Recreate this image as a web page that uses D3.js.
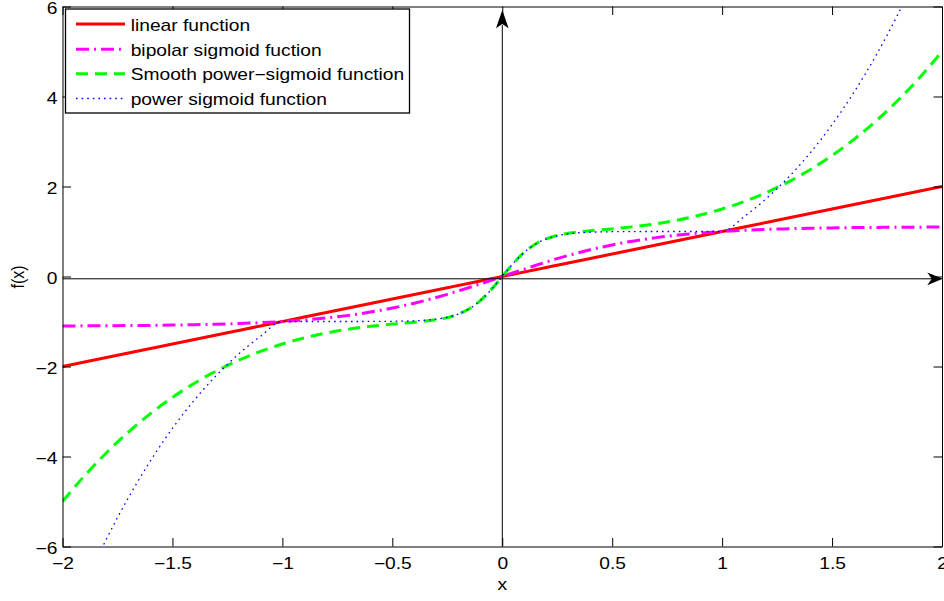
<!DOCTYPE html>
<html>
<head>
<meta charset="utf-8">
<script src="https://cdn.jsdelivr.net/npm/d3@7"></script>
<style>
  html, body { margin: 0; padding: 0; background: #fff; }
  svg { display: block; }
  text { font-family: "Liberation Sans", Arial, Helvetica, sans-serif; font-size: 16px; fill: #000; }
</style>
</head>
<body>
<svg id="chart" width="944" height="601"></svg>
<script>
// Sample points along x
const xValues = [-2, -1.9, -1.8, -1.7, -1.6, -1.5, -1.4, -1.3, -1.2, -1.1, -1, -0.9, -0.8, -0.7, -0.6, -0.5, -0.4, -0.3,
  -0.25, -0.2, -0.15, -0.1, -0.05, 0, 0.05, 0.1, 0.15, 0.2, 0.25,
  0.3, 0.4, 0.5, 0.6, 0.7, 0.8, 0.9, 1, 1.1, 1.2, 1.3, 1.4, 1.5, 1.6, 1.7, 1.8, 1.9, 2];

const linearValues = [-2, -1.9, -1.8, -1.7, -1.6, -1.5, -1.4, -1.3, -1.2, -1.1, -1, -0.9, -0.8, -0.7, -0.6, -0.5, -0.4, -0.3,
  -0.25, -0.2, -0.15, -0.1, -0.05, 0, 0.05, 0.1, 0.15, 0.2, 0.25,
  0.3, 0.4, 0.5, 0.6, 0.7, 0.8, 0.9, 1, 1.1, 1.2, 1.3, 1.4, 1.5, 1.6, 1.7, 1.8, 1.9, 2];

const bipolarValues = [-1.099, -1.097, -1.095, -1.091, -1.087, -1.080, -1.072, -1.061, -1.046, -1.026, -1.0, -0.966, -0.921, -0.864, -0.791, -0.702, -0.593, -0.466,
  -0.396, -0.322, -0.244, -0.164, -0.083, 0, 0.083, 0.164, 0.244, 0.322, 0.396,
  0.466, 0.593, 0.702, 0.791, 0.864, 0.921, 0.966, 1.0, 1.026, 1.046, 1.061, 1.072, 1.080, 1.087, 1.091, 1.095, 1.097, 1.099];

const smoothPowerValues = [-5.0, -4.430, -3.916, -3.457, -3.048, -2.688, -2.372, -2.099, -1.864, -1.666, -1.5, -1.365, -1.256, -1.171, -1.107, -1.058, -1.016, -0.960,
  -0.913, -0.838, -0.718, -0.538, -0.291, 0, 0.291, 0.538, 0.718, 0.838, 0.913,
  0.960, 1.016, 1.058, 1.107, 1.171, 1.256, 1.365, 1.5, 1.666, 1.864, 2.099, 2.372, 2.688, 3.048, 3.457, 3.916, 4.430, 5.0];

const powerValues = [-8.0, -6.859, -5.832, -4.913, -4.096, -3.375, -2.744, -2.197, -1.728, -1.331, -1.0, -1.0, -1.0, -1.0, -0.999, -0.995, -0.984, -0.947,
  -0.905, -0.834, -0.716, -0.537, -0.291, 0, 0.291, 0.537, 0.716, 0.834, 0.905,
  0.947, 0.984, 0.995, 0.999, 1.0, 1.0, 1.0, 1.0, 1.331, 1.728, 2.197, 2.744, 3.375, 4.096, 4.913, 5.832, 6.859, 8.0];

const seriesNames = ["linear function", "bipolar sigmoid fuction", "Smooth power\u2212sigmoid function", "power sigmoid function"];
const xTicks = [-2, -1.5, -1, -0.5, 0, 0.5, 1, 1.5, 2];
const yTicks = [-6, -4, -2, 0, 2, 4, 6];
const xLabel = "x";
const yLabel = "f(x)";

const series = [
  { name: seriesNames[0], values: linearValues,      color: "#ff0000", width: 3,   dash: null },
  { name: seriesNames[1], values: bipolarValues,     color: "#ff00ff", width: 3,   dash: "13,5,2,5" },
  { name: seriesNames[2], values: smoothPowerValues, color: "#00ff00", width: 3,   dash: "12,7" },
  { name: seriesNames[3], values: powerValues,       color: "#0000ff", width: 1.3, dash: "1.6,4" }
];

const SX = 1.2; // horizontal glyph stretch
const fmt = v => String(v).replace("-", "\u2212");

const svg = d3.select("#chart");
const plotLeft = 62.5, plotRight = 942, plotTop = 6.5, plotBottom = 546.5;

const x = d3.scaleLinear().domain([-2, 2]).range([plotLeft, plotRight]);
const y = d3.scaleLinear().domain([-6, 6]).range([plotBottom, plotTop]);

// clip region for the plotted curves
svg.append("defs").append("clipPath").attr("id", "plotClip")
  .append("rect").attr("x", plotLeft).attr("y", plotTop)
  .attr("width", plotRight - plotLeft).attr("height", plotBottom - plotTop);

// curves
const line = d3.line()
  .x((d, i) => x(xValues[i]))
  .y(d => y(d))
  .curve(d3.curveMonotoneX);

const plot = svg.append("g").attr("clip-path", "url(#plotClip)");
series.forEach(s => {
  plot.append("path")
    .attr("d", line(s.values))
    .attr("fill", "none")
    .attr("stroke", s.color)
    .attr("stroke-width", s.width)
    .attr("stroke-dasharray", s.dash)
    .attr("stroke-linejoin", "round");
});

// axes (box with inward ticks on all sides)
const tickLen = 8.5;
const gB = svg.append("g").attr("transform", `translate(0,${plotBottom})`)
  .call(d3.axisBottom(x).tickValues(xTicks).tickFormat(fmt).tickSizeInner(-tickLen).tickSizeOuter(0));
const gT = svg.append("g").attr("transform", `translate(0,${plotTop})`)
  .call(d3.axisTop(x).tickValues(xTicks).tickFormat("").tickSizeInner(-tickLen).tickSizeOuter(0));
const gL = svg.append("g").attr("transform", `translate(${plotLeft},0)`)
  .call(d3.axisLeft(y).tickValues(yTicks).tickFormat(fmt).tickSizeInner(-tickLen).tickSizeOuter(0));
const gR = svg.append("g").attr("transform", `translate(${plotRight},0)`)
  .call(d3.axisRight(y).tickValues(yTicks).tickFormat("").tickSizeInner(-tickLen).tickSizeOuter(0));

[gB, gT, gL, gR].forEach(g => {
  g.attr("font-size", null).attr("font-family", null);
  g.selectAll("path.domain").attr("stroke", "#000").attr("stroke-width", 1);
  g.selectAll(".tick line").attr("stroke", "#000").attr("stroke-width", 1);
});
gB.selectAll(".tick text")
  .attr("x", null).attr("y", null).attr("dy", null)
  .attr("text-anchor", "middle")
  .attr("transform", `translate(0,22.5) scale(${SX},1)`);
gL.selectAll(".tick text")
  .attr("x", null).attr("y", null).attr("dy", null)
  .attr("text-anchor", "end")
  .attr("transform", `translate(-5,7.3) scale(${SX},1)`);

// axis titles
svg.append("text").attr("text-anchor", "middle")
  .attr("transform", `translate(${x(0)},590) scale(${SX},1)`).text(xLabel);
svg.append("text").attr("text-anchor", "middle")
  .attr("transform", `translate(23.5,277) scale(${SX},1) rotate(-90)`).text(yLabel);

// coordinate axes through the origin with arrowheads
const ax = svg.append("g");
ax.append("line").attr("x1", 502.3).attr("x2", 502.3).attr("y1", plotBottom).attr("y2", 25)
  .attr("stroke", "#000").attr("stroke-width", 1);
ax.append("path").attr("d", "M502.3,10 L496,28.3 L502.3,24 L508.6,28.3 Z").attr("fill", "#000");
ax.append("line").attr("x1", plotLeft).attr("x2", 932).attr("y1", 278.8).attr("y2", 278.8)
  .attr("stroke", "#000").attr("stroke-width", 1);
ax.append("path").attr("d", "M942.7,278.8 L927.3,272.5 L931.7,278.8 L927.3,285.3 Z").attr("fill", "#000");

// legend
const lg = svg.append("g");
lg.append("rect").attr("x", 65.5).attr("y", 9).attr("width", 344).attr("height", 104)
  .attr("fill", "#fff").attr("stroke", "#000").attr("stroke-width", 1.3);
const rowY = [24, 49.3, 73.8, 98.5];
series.forEach((s, i) => {
  lg.append("line").attr("x1", 76).attr("x2", 125).attr("y1", rowY[i]).attr("y2", rowY[i])
    .attr("stroke", s.color).attr("stroke-width", s.width).attr("stroke-dasharray", s.dash);
  lg.append("text").attr("transform", `translate(130.7,${rowY[i] + 6.5}) scale(${SX},1)`).text(s.name);
});
</script>
</body>
</html>
